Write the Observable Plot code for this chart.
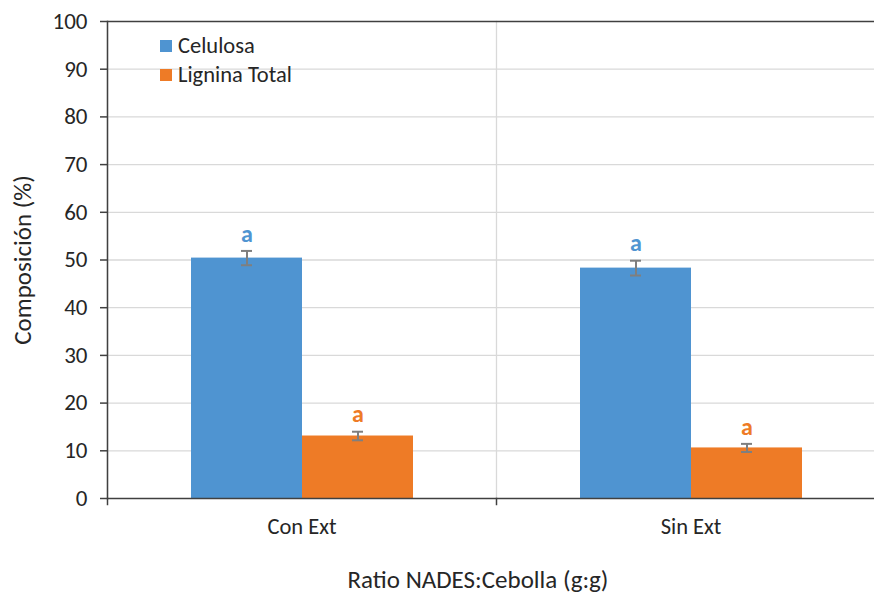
<!DOCTYPE html>
<html><head><meta charset="utf-8">
<script src="https://cdn.jsdelivr.net/npm/d3@7"></script>
<script src="https://cdn.jsdelivr.net/npm/@observablehq/plot@0.6"></script>
<style>
body{margin:0;background:#fff;font-family:Carlito,Lato,sans-serif;color:#262626;}
#wrap{position:relative;width:874px;height:595px;overflow:hidden;}
.leg{position:absolute;left:160px;display:flex;align-items:center;font-size:22.5px;line-height:26px;}
.sw{width:12px;height:12px;margin-right:6px;}
#cap{position:absolute;left:0;top:565px;width:874px;box-sizing:border-box;padding-left:82px;text-align:center;font-size:25px;line-height:30px;}
</style></head><body>
<div id="wrap"></div>
<script>
const categories = ["Con Ext", "Sin Ext"];
const series = ["Celulosa", "Lignina Total"];
const celulosa = [50.4, 48.3];
const celulosaErr = [1.5, 1.55];
const lignina = [13.1, 10.6];
const ligninaErr = [0.9, 0.85];
const celulosaLetters = ["a", "a"];
const ligninaLetters = ["a", "a"];
const colors = ["#4F94D1", "#EE7B26"];
const yTicks = [0, 10, 20, 30, 40, 50, 60, 70, 80, 90, 100];
const gridTicks = [10, 20, 30, 40, 50, 60, 70, 80, 90];
const yLabel = "Composición (%)";
const xLabel = "Ratio NADES:Cebolla (g:g)";

const rows = [];
categories.forEach((c, i) => {
  rows.push({cat: c, series: series[0], value: celulosa[i], err: celulosaErr[i], letter: celulosaLetters[i]});
  rows.push({cat: c, series: series[1], value: lignina[i], err: ligninaErr[i], letter: ligninaLetters[i]});
});

const font = "Carlito, Lato, sans-serif";
const chart = Plot.plot({
  width: 874, height: 555,
  marginLeft: 107, marginRight: 0, marginTop: 21, marginBottom: 57,
  style: {fontFamily: font, fontSize: "22px", color: "#262626", background: "white", overflow: "hidden"},
  fx: {domain: categories, range: [107, 885], padding: 0, label: null},
  x: {domain: series, paddingInner: 0, paddingOuter: 0.744, axis: null},
  y: {domain: [0, 100], axis: null},
  color: {domain: series, range: colors},
  marks: [
    Plot.ruleY(gridTicks, {stroke: "#d9d9d9", strokeWidth: 1.3}),
    Plot.frame({anchor: "left", stroke: "#d9d9d9", strokeWidth: 1.3}),
    Plot.barY(rows, {fx: "cat", x: "series", y: "value", fill: "series"}),
    Plot.ruleX(rows, {fx: "cat", x: "series", y1: d => d.value - d.err, y2: d => d.value + d.err, stroke: "#7f7f7f", strokeWidth: 2}),
    Plot.tickY(rows, {fx: "cat", x: "series", y: d => d.value - d.err, stroke: "#7f7f7f", strokeWidth: 2, insetLeft: 50, insetRight: 50}),
    Plot.tickY(rows, {fx: "cat", x: "series", y: d => d.value + d.err, stroke: "#7f7f7f", strokeWidth: 2, insetLeft: 50, insetRight: 50}),
    Plot.text(rows, {fx: "cat", x: "series", y: d => d.value + d.err, text: "letter", fill: "series", fontWeight: "bold", fontSize: 24, textAnchor: "middle", dy: -17}),
    Plot.ruleY([0, 100], {stroke: "#404040", strokeWidth: 1.5}),
    Plot.frame({anchor: "left", stroke: "#404040", strokeWidth: 1.5, facetAnchor: "left"}),
    Plot.frame({anchor: "left", stroke: "#404040", strokeWidth: 1.5, insetTop: 477, insetBottom: -6}),
    Plot.axisY({ticks: yTicks, tickSize: 7, tickPadding: 13, fontSize: 23, label: null, stroke: "#404040", strokeWidth: 1.5, fill: "#262626"}),
    Plot.axisFx({anchor: "bottom", tickSize: 0, tickPadding: 20, fontSize: 22.5, label: null, fill: "#262626"}),
    Plot.text([yLabel], {frameAnchor: "left", textAnchor: "middle", rotate: -90, dx: -85, fontSize: 25, fill: "#262626", facetAnchor: "left"})
  ]
});

const wrap = document.getElementById("wrap");
wrap.appendChild(chart);
series.forEach((s, i) => {
  const d = document.createElement("div");
  d.className = "leg";
  d.style.top = (33 + i * 29) + "px";
  d.innerHTML = `<div class="sw" style="background:${colors[i]}"></div><span>${s}</span>`;
  wrap.appendChild(d);
});
const cap = document.createElement("div");
cap.id = "cap";
cap.textContent = xLabel;
wrap.appendChild(cap);
</script>
</body></html>
